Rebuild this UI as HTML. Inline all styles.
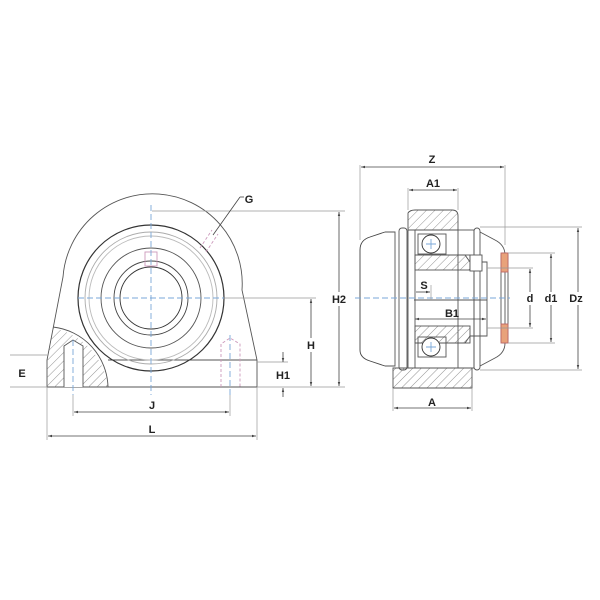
<!DOCTYPE html>
<html><head><style>html,body{margin:0;padding:0;background:#fff}svg{display:block}</style></head>
<body>
<svg width="600" height="600" viewBox="0 0 600 600" xmlns="http://www.w3.org/2000/svg" font-family="Liberation Sans, sans-serif">
<defs>
<pattern id="h" width="6" height="6" patternUnits="userSpaceOnUse" patternTransform="rotate(45)"><line x1="0" y1="0" x2="0" y2="6" stroke="#777" stroke-width="0.8"/></pattern>
<marker id="a" viewBox="0 0 10 10" refX="10" refY="5" markerWidth="5" markerHeight="5" orient="auto-start-reverse"><path d="M0,2 L10,5 L0,8z" fill="#444"/></marker>
<clipPath id="hc"><path d="M47,387 L47,360 L63,277 A88,88 0 0 1 242,290 L257,360 L257,387 Z"/></clipPath>
</defs>
<g fill="none" stroke="#555" stroke-width="0.9">
<path d="M47,387 L47,360 L63,277 A88,88 0 0 1 242,290 L257,360 L257,387 Z" fill="#fff"/>
<path d="M40,327 A68,68 0 0 1 108,387 L40,387 Z" fill="url(#h)" stroke="none" clip-path="url(#hc)"/>
<path d="M53,327 A62,62 0 0 1 108,387" clip-path="url(#hc)"/>
<line x1="108" y1="360" x2="257" y2="360"/>
<circle cx="151" cy="298" r="73" stroke="#333" stroke-width="1.2"/>
<circle cx="151" cy="298" r="66" stroke="#aaa"/>
<circle cx="151" cy="298" r="62" stroke="#bbb"/>
<circle cx="151" cy="298" r="50" stroke="#555"/>
<circle cx="151" cy="298" r="37" stroke="#444"/>
<circle cx="151" cy="298" r="31" stroke="#333"/>
<rect x="145" y="252" width="12" height="14" stroke="#c9b"/>
<path d="M64,387 L64,346 L73,340 L83,346 L83,387" fill="#fff"/>
<path d="M221,387 L221,344 L230,338 L240,344 L240,387" stroke="#c9b" stroke-dasharray="3,2"/>
<path d="M200,248 L212,230 M206,252 L218,234" stroke="#c9b" stroke-dasharray="3,2"/>
<line x1="151" y1="205" x2="151" y2="395" stroke="#7aa7d8" stroke-dasharray="6,3"/>
<line x1="78" y1="298" x2="224" y2="298" stroke="#7aa7d8" stroke-dasharray="6,3"/>
<line x1="73" y1="340" x2="73" y2="395" stroke="#7aa7d8" stroke-dasharray="6,3"/>
<line x1="230" y1="335" x2="230" y2="395" stroke="#7aa7d8" stroke-dasharray="6,3"/>
<g stroke="#999" stroke-width="0.7">
<line x1="152" y1="211" x2="345" y2="211"/><line x1="224" y1="298" x2="316" y2="298"/>
<line x1="257" y1="387" x2="345" y2="387"/><line x1="257" y1="362" x2="288" y2="362"/>
<line x1="10" y1="355" x2="47" y2="355"/><line x1="10" y1="387" x2="47" y2="387"/>
<line x1="47" y1="387" x2="47" y2="440"/><line x1="257" y1="387" x2="257" y2="440"/>
<line x1="73" y1="395" x2="73" y2="416"/><line x1="230" y1="395" x2="230" y2="416"/>
</g>
<g stroke="#444" stroke-width="0.8">
<line x1="339" y1="212" x2="339" y2="386" marker-start="url(#a)" marker-end="url(#a)"/>
<line x1="311" y1="299" x2="311" y2="386" marker-start="url(#a)" marker-end="url(#a)"/>
<line x1="283" y1="352" x2="283" y2="362" marker-end="url(#a)"/><line x1="283" y1="397" x2="283" y2="388" marker-end="url(#a)"/>
<line x1="74" y1="412" x2="229" y2="412" marker-start="url(#a)" marker-end="url(#a)"/>
<line x1="48" y1="436" x2="256" y2="436" marker-start="url(#a)" marker-end="url(#a)"/>
<line x1="240" y1="197" x2="213" y2="235"/><line x1="240" y1="197" x2="244" y2="197"/>
</g>
<path d="M408,230 L408,213 Q410,210 415,210 L452,210 Q458,210 458,216 L458,230 Z" fill="url(#h)"/>
<path d="M393,368 L472,368 L472,388 L393,388 Z" fill="url(#h)"/>
<path d="M385,232 L370,237 Q360,240 360,250 L360,350 Q360,358 370,361 L385,366" stroke="#444"/>
<path d="M385,232 L395,232 L395,366 L385,366"/>
<rect x="399" y="228" width="8" height="142" rx="3"/>
<rect x="408" y="230" width="7" height="138"/>
<path d="M480,232 L495,240 Q505,245 505,255 L505,343 Q505,353 495,358 L480,366"/>
<rect x="474" y="228" width="6" height="142" rx="3"/>
<rect x="458" y="230" width="16" height="138"/>
<path d="M415,255 L465,255 L470,262 L487,262 L487,336 L470,336 L465,343 L415,343"/>
<rect x="415" y="255" width="55" height="15" fill="url(#h)"/>
<rect x="415" y="326" width="55" height="17" fill="url(#h)"/>
<rect x="470" y="255" width="12" height="16" fill="#fff"/>
<rect x="418" y="234" width="28" height="20"/><rect x="418" y="337" width="28" height="20"/>
<circle cx="431" cy="244" r="9" stroke="#333" fill="#fff"/><circle cx="431" cy="347" r="9" stroke="#333" fill="#fff"/>
<path d="M426,244 h10 M431,239 v10 M426,347 h10 M431,342 v10" stroke="#7aa7d8"/>
<line x1="414" y1="300" x2="487" y2="300"/>
<rect x="501" y="253" width="7" height="90" rx="2"/>
<rect x="501" y="253" width="7" height="19" fill="#e8a27a" stroke="#b66"/>
<rect x="501" y="324" width="7" height="19" fill="#e8a27a" stroke="#b66"/>
<line x1="355" y1="298" x2="510" y2="298" stroke="#7aa7d8" stroke-dasharray="6,3"/>
<g stroke="#999" stroke-width="0.7">
<line x1="360" y1="165" x2="360" y2="240"/><line x1="505" y1="165" x2="505" y2="245"/>
<line x1="408" y1="188" x2="408" y2="210"/><line x1="458" y1="188" x2="458" y2="210"/>
<line x1="393" y1="388" x2="393" y2="411"/><line x1="472" y1="388" x2="472" y2="411"/>
<line x1="480" y1="227" x2="582" y2="227"/><line x1="480" y1="370" x2="582" y2="370"/>
<line x1="508" y1="253" x2="555" y2="253"/><line x1="508" y1="343" x2="555" y2="343"/>
<line x1="487" y1="268" x2="533" y2="268"/><line x1="487" y1="328" x2="533" y2="328"/>
<line x1="431" y1="285" x2="431" y2="300"/>
</g>
<g stroke="#444" stroke-width="0.8">
<line x1="361" y1="167" x2="504" y2="167" marker-start="url(#a)" marker-end="url(#a)"/>
<line x1="409" y1="190" x2="457" y2="190" marker-start="url(#a)" marker-end="url(#a)"/>
<line x1="394" y1="408" x2="471" y2="408" marker-start="url(#a)" marker-end="url(#a)"/>
<line x1="578" y1="228" x2="578" y2="369" marker-start="url(#a)" marker-end="url(#a)"/>
<line x1="551" y1="254" x2="551" y2="342" marker-start="url(#a)" marker-end="url(#a)"/>
<line x1="530" y1="269" x2="530" y2="327" marker-start="url(#a)" marker-end="url(#a)"/>
<line x1="415" y1="319" x2="486" y2="319" marker-start="url(#a)" marker-end="url(#a)"/>
<line x1="416" y1="292" x2="430" y2="292" marker-end="url(#a)"/>
</g>
</g>
<g font-size="11" font-weight="bold" fill="#222" text-anchor="middle">
<text x="249" y="203">G</text>
<rect x="330" y="292" width="18" height="14" fill="#fff"/><text x="339" y="303">H2</text>
<rect x="305" y="338" width="12" height="14" fill="#fff"/><text x="311" y="349">H</text>
<text x="283" y="379">H1</text>
<text x="22" y="377">E</text>
<text x="152" y="409">J</text>
<text x="152" y="433">L</text>
<text x="432" y="163">Z</text>
<text x="433" y="187">A1</text>
<text x="432" y="406">A</text>
<text x="424" y="289">S</text>
<text x="452" y="317">B1</text>
<rect x="524" y="292" width="12" height="13" fill="#fff"/><text x="530" y="302">d</text>
<rect x="543" y="292" width="16" height="13" fill="#fff"/><text x="551" y="302">d1</text>
<rect x="565" y="292" width="24" height="13" fill="#fff"/><text x="576" y="302">Dz</text>
</g>
</svg>
</body></html>
